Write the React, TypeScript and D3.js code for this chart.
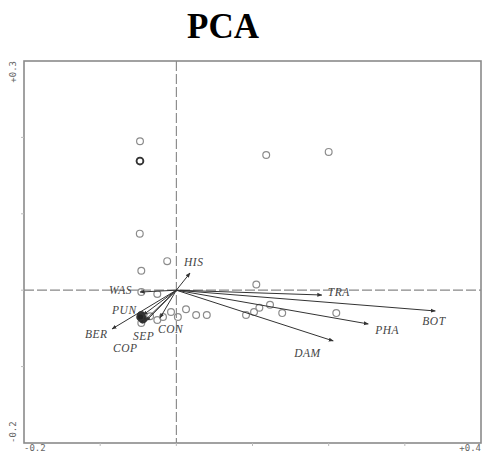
import React from "react";
import * as d3 from "d3";

// Sample scores (PC1, PC2)
const sampleX = [-0.0477, -0.048, 0.118, 0.2, -0.048, -0.012, -0.046, -0.046, -0.025, 0.105, 0.123, 0.109, 0.102, 0.0915, 0.139, 0.21, 0.0127, 0.002, -0.007, 0.026, 0.04, -0.0175, -0.025, -0.0345, -0.046];
const sampleY = [0.195, 0.169, 0.177, 0.181, 0.074, 0.038, 0.0255, -0.0024, -0.005, 0.0075, -0.019, -0.023, -0.0285, -0.0325, -0.03, -0.03, -0.025, -0.035, -0.0285, -0.0325, -0.0325, -0.035, -0.039, -0.034, -0.043];
// overlapping (dark) samples
const denseX = [-0.0477, -0.045, -0.046, -0.044, -0.047];
const denseY = [0.169, -0.036, -0.033, -0.038, -0.035];

// Variable loadings
const varNames = ["HIS", "TRA", "BOT", "PHA", "DAM", "WAS", "PUN", "BER", "SEP", "COP", "CON"];
const varX = [0.018, 0.191, 0.34, 0.252, 0.206, -0.0477, -0.0437, -0.0844, -0.0398, -0.045, -0.0214];
const varY = [0.0225, -0.0063, -0.0272, -0.0442, -0.0664, -0.0024, -0.0325, -0.0507, -0.0403, -0.043, -0.0363];

const xDomain = [-0.2, 0.4];
const yDomain = [-0.2, 0.3];
const xTicks = [-0.1, 0, 0.1, 0.2, 0.3];
const yTicks = [-0.1, 0, 0.1, 0.2];

// label offsets (px) relative to arrow tip
const labelOffsets: Record<string, [number, number]> = {
  HIS: [-6, -7],
  TRA: [6, 1],
  BOT: [-13, 14],
  PHA: [7, 10],
  DAM: [-39, 16],
  WAS: [-31, 2],
  PUN: [-31, -1],
  BER: [-27, 9],
  SEP: [-13, 19],
  COP: [-29, 29],
  CON: [-2, 15],
};

export default function App() {
  const L = 24, R = 481, T = 61, B = 443;
  const x = d3.scaleLinear().domain(xDomain).range([L, R]);
  const y = d3.scaleLinear().domain(yDomain).range([B, T]);
  const frameColor = "#8a8a8a";
  const labelFont = "'Liberation Serif', 'Times New Roman', serif";
  return (
    <svg width={483} height={454} style={{ position: "absolute", left: 0, top: 0, background: "#fff" }}>
      <defs>
        <marker id="ah" viewBox="0 0 10 10" refX="9" refY="5" markerWidth="5" markerHeight="5" orient="auto">
          <path d="M0,1 L10,5 L0,9 z" fill="#333" />
        </marker>
      </defs>
      <text x={223} y={38} textAnchor="middle" fontFamily={labelFont} fontWeight="bold" fontSize={35} fill="#000">PCA</text>

      {/* dashed zero lines */}
      <line x1={x(0)} x2={x(0)} y1={T} y2={B} stroke="#777" strokeWidth={1} strokeDasharray="10,3" />
      <line x1={L} x2={R} y1={y(0)} y2={y(0)} stroke="#888" strokeWidth={1.2} strokeDasharray="10,3" />

      {/* frame */}
      <rect x={L} y={T} width={R - L} height={B - T} fill="none" stroke={frameColor} strokeWidth={1.6} />
      {xTicks.map((t) => (
        <line key={"xt" + t} x1={x(t)} x2={x(t)} y1={B} y2={B + 3} stroke="#bbb" strokeWidth={1} />
      ))}
      {yTicks.map((t) => (
        <line key={"yt" + t} x1={L - 3} x2={L} y1={y(t)} y2={y(t)} stroke="#bbb" strokeWidth={1} />
      ))}

      {/* axis extreme labels */}
      <g fontFamily="'DejaVu Sans Mono', monospace" fontSize={9} fill="#666">
        <text x={L} y={451}>{"-0.2"}</text>
        <text x={R} y={451} textAnchor="end">{"+0.4"}</text>
        <text transform={`translate(16,${T}) rotate(-90)`} textAnchor="end">{"+0.3"}</text>
        <text transform={`translate(16,${B}) rotate(-90)`} textAnchor="start">{"-0.2"}</text>
      </g>

      {/* samples */}
      {sampleX.map((v, i) => (
        <circle key={"s" + i} cx={x(v)} cy={y(sampleY[i])} r={3.4} fill="none" stroke="#8c8c8c" strokeWidth={1.2} />
      ))}
      {denseX.map((v, i) => (
        <circle key={"d" + i} cx={x(v)} cy={y(denseY[i])} r={3.4} fill={i === 0 ? "none" : "#222"} stroke="#333" strokeWidth={1.8} />
      ))}

      {/* loadings */}
      {varNames.map((n, i) => {
        const tx = x(varX[i]);
        const ty = y(varY[i]);
        const [dx, dy] = labelOffsets[n];
        return (
          <g key={n}>
            <line x1={x(0)} y1={y(0)} x2={tx} y2={ty} stroke="#333" strokeWidth={1} markerEnd="url(#ah)" />
            <text x={tx + dx} y={ty + dy} fontFamily={labelFont} fontStyle="italic" fontSize={11.5} fill="#444" letterSpacing={0.5}>{n}</text>
          </g>
        );
      })}
    </svg>
  );
}
